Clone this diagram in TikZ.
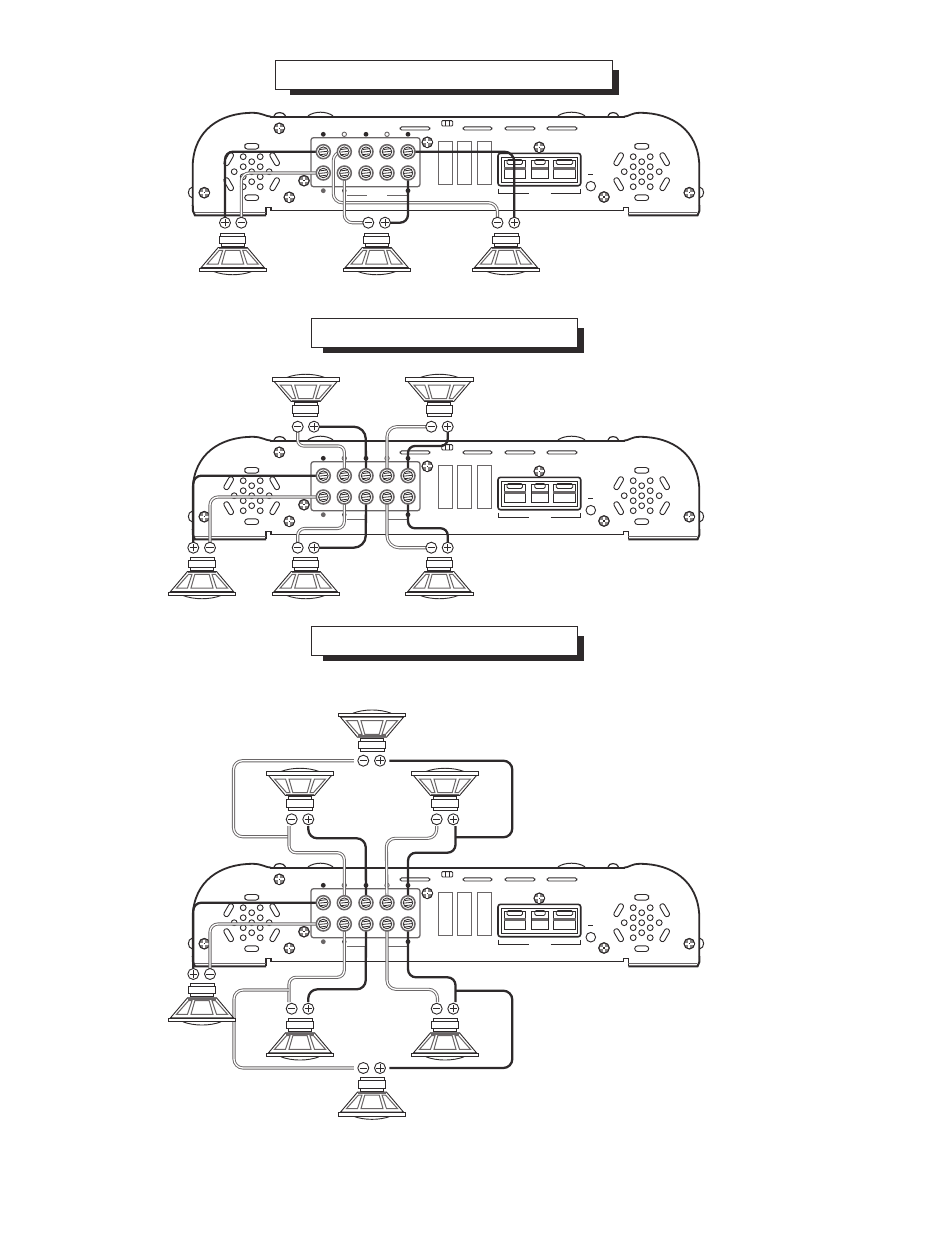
\documentclass[tikz,border=0pt]{standalone}
\usetikzlibrary{calc}
\pgfdeclarelayer{amplayer}
\pgfdeclarelayer{wirelayer}
\pgfsetlayers{amplayer,wirelayer,main}
\definecolor{ink}{HTML}{2E2A2B}
\definecolor{soft}{HTML}{6A6667}
\tikzset{
  x=1pt,y=-1pt,
  amp/.style={draw=ink,line width=1.2pt},
  ampthick/.style={draw=ink,line width=2.4pt},
  softline/.style={draw=soft,line width=1pt},
  blackwire/.style={draw=ink,line width=2.3pt,rounded corners=8pt},
  whitewire/.style={draw=soft,line width=.9pt,double=white,double distance=1.3pt,rounded corners=8pt},
  posterm/.style={circle,draw=ink,line width=.9pt,fill=white,minimum size=11pt,inner sep=0pt,
    path picture={\draw[ink,line width=.9pt] ([xshift=-3.6pt]path picture bounding box.center)--([xshift=3.6pt]path picture bounding box.center)
      ([yshift=-3.6pt]path picture bounding box.center)--([yshift=3.6pt]path picture bounding box.center);}},
  negterm/.style={circle,draw=ink,line width=.9pt,fill=white,minimum size=11pt,inner sep=0pt,
    path picture={\draw[ink,line width=.9pt] ([xshift=-3.6pt]path picture bounding box.center)--([xshift=3.6pt]path picture bounding box.center);}},
  coilterm/.style={circle,draw=soft,line width=1.5pt,fill=white,minimum size=14pt,inner sep=0pt,
    path picture={\begin{scope}[shift={(path picture bounding box.center)}]
      \draw[ink,line width=.8pt] (0,0) circle (4.8);
      \draw[ink,line width=.8pt] (-3.2,-2.2)--(3.2,-3) (-3.9,.4)--(3.9,-.4) (-3.2,3)--(3.2,2.2);
      \end{scope}}},
  grill/.style={draw=ink,line width=.9pt,fill=white},
  banner/.style={draw=ink,line width=.9pt,fill=white},
  shadow/.style={fill=ink,draw=none}
}
\newcommand{\Screw}[2]{%
  \draw[ink,line width=1.1pt,fill=soft!80] (#1,#2) circle (5.3);
  \draw[white,line width=2.3pt] (#1-4.2,#2)--(#1+4.2,#2) (#1,#2-4.2)--(#1,#2+4.2);
  \fill[ink] (#1-.7,#2-.7) rectangle (#1+.7,#2+.7);
}
\newcommand{\SlotD}[3]{\draw[grill,rotate around={#3:(#1,#2)},rounded corners=2.4pt] (#1-7,#2-2.6) rectangle (#1+7,#2+2.6);}
\newcommand{\Grill}[1]{%
  \begin{scope}[shift={(#1,171.7)}]
    \foreach \gx/\gy in {0/-10,-8.5/-15,8.5/-15,-17.5/0,-8.5/-5,8.5/-5,0/0,17.5/0,-8.5/5,8.5/5,0/10,-8.5/15,8.5/15}
      {\draw[grill] (\gx,\gy) circle (2.9);}
    \draw[grill,rounded corners=2.8pt] (-7,-28.2) rectangle (7,-22.6);
    \draw[grill,rounded corners=2.8pt] (-7,23.2) rectangle (7,28.8);
    \SlotD{-23}{-12.5}{60}
    \SlotD{23}{-12.5}{-60}
    \SlotD{-23}{12.5}{-60}
    \SlotD{23}{12.5}{60}
  \end{scope}
}
% amp body, in the coordinates of the first amp; #1 = prefix of the terminal names
\newcommand{\AmpBody}[1]{%
  \begin{pgfonlayer}{amplayer}
    \draw[ampthick,line width=1.8pt] (270,116.6)--(625,116.6);
    \draw[ampthick,line width=1.8pt] (192.7,205)--(192.7,165) .. controls (194,130) and (220,112.8) .. (253,112.8) .. controls (262,112.8) and (266,116.6) .. (271,116.6);
    \draw[ampthick,line width=1.8pt] (699.3,205)--(699.3,165) .. controls (698,130) and (672,112.8) .. (640,112.8) .. controls (631,112.8) and (629,116.6) .. (624,116.6);
    \draw[ampthick,line width=2pt] (192.7,205)--(193,211)--(195,215.4)--(266,215.4);
    \draw[amp] (266,215.4)--(266,207.2)--(271,207.2)--(271,210.4)--(623.3,210.4)--(623.3,207.2)--(628.3,207.2)--(628.3,215.4);
    \draw[ampthick,line width=2pt] (628.3,215.4)--(697.5,215.4)--(699.3,211)--(699.3,205);
    \draw[soft,line width=.8pt] (195,212.6)--(266,212.6) (628.3,212.6)--(697,212.6);
    % bumps and domes
    \draw[amp] (274,115.8) .. controls (275,111.5) and (284,111.5) .. (285.5,115.8);
    \draw[amp] (608,115.8) .. controls (609,111.5) and (617,111.5) .. (618.5,115.8);
    \draw[amp,line width=1pt] (308,115.8) .. controls (315,111) and (326,111) .. (333,115.8);
    \draw[amp,line width=1pt] (558,115.8) .. controls (565,111) and (578,111) .. (585,115.8);
    % lugs
    \draw[amp,line width=1pt] (192.5,187) .. controls (187,188) and (187,197) .. (192.5,198);
    \draw[amp,line width=1pt] (699.5,187) .. controls (705,188) and (705,197) .. (699.5,198);
    % grills
    \Grill{251.7}
    \Grill{641.7}
    % top slots and clip
    \foreach \sa/\sb in {400/430,463/492,505/535,547/577}
      {\draw[amp,line width=.9pt,rounded corners=1.6pt] (\sa,126.8) rectangle (\sb,130);}
    \draw[amp,line width=.9pt,rounded corners=1pt] (441.7,120.6) rectangle (452.7,126);
    \draw[amp,line width=.9pt] (445,120.6)--(445,126) (449.5,120.6)--(449.5,126);
    % screws
    \Screw{279.3}{128.3}
    \Screw{204.3}{192.7}
    \Screw{289.3}{197.3}
    \Screw{304}{180.7}
    \Screw{427.3}{142.3}
    \Screw{539.3}{147.3}
    \Screw{604}{197}
    \Screw{689.3}{192.7}
    % terminal panel
    \draw[soft,line width=1.3pt,rounded corners=2.5pt] (311,137.7) rectangle (420,186.7);
    % dots
    \foreach \dx/\df in {323.3/ink,366/ink,408/ink} {\fill[\df] (\dx,134.3) circle (2.4);}
    \foreach \dx in {344.3,387} {\draw[soft,line width=.9pt,fill=white] (\dx,134.3) circle (2.2);}
    \fill[soft] (323.3,190.7) circle (2.4);
    \fill[ink] (344.3,190.7) circle (2.2);
    \fill[ink] (408,190.7) circle (2.4);
    \draw[soft,line width=.9pt] (346.7,195.8)--(366.7,195.8) (387,195.8)--(408,195.8);
    % tall plates
    \foreach \pa/\pb in {438/452,457/471,477/491}
      {\draw[soft,line width=1pt] (\pa,141.7) rectangle (\pb,184.3);}
    % power block
    \draw[ink,line width=1.6pt,rounded corners=2.5pt] (498,153.3) rectangle (580.7,185.7);
    \draw[ink,line width=.8pt] (501.5,157) rectangle (577,182.5);
    \foreach \ca/\cb in {504/525.5,531.7/548.3,553.3/575.7}{
      \draw[ink,line width=1pt,fill=white] (\ca,160) rectangle (\cb,178.3);
      \fill[soft] (\ca,166.5) rectangle (\cb,169.6);
      \draw[ink,line width=.8pt,rounded corners=1.5pt] (\ca+3,159.5) rectangle (\cb-3,164.5);
    }
    \draw[ink,line width=.9pt] (498,188.5)--(498,193.5)--(529,193.5) (550.5,193.5)--(580.7,193.5)--(580.7,188.5);
    \draw[ink,line width=.9pt] (588.2,174.3)--(593.2,174.3);
    \draw[ink,line width=.9pt,fill=white] (590.8,186.2) circle (4.8);
  \end{pgfonlayer}
  \foreach \tc/\tx in {1/323.3,2/344.3,3/366,4/387,5/408}{
    \node[coilterm] (#1t\tc a) at (\tx,151.7) {};
    \node[coilterm] (#1t\tc b) at (\tx,173) {};
  }
}
\newcommand{\Spk}[3]{% cx, y of magnet end, +1 = cone below, -1 = cone above
  \begin{scope}[shift={(#1,#2)},yscale=#3]
    \draw[ink,line width=.9pt] (-19,38.5) .. controls (-8,42.8) and (8,42.8) .. (19,38.5);
    \draw[ink,line width=1pt,fill=white] (-12,0) rectangle (12,3);
    \draw[ink,line width=1pt,fill=white] (-13.2,3) rectangle (13.2,10.5);
    \draw[ink,line width=1pt,fill=white] (-11.5,10.5) rectangle (11.5,13.5);
    \draw[ink,line width=.9pt,fill=white] (-14.5,14.5)--(14.5,14.5)--(31.5,34.5)--(-31.5,34.5)--cycle;
    \draw[soft,line width=1.5pt] (-14,15.5)--(14,15.5);
    \draw[soft,line width=1pt] (-7.2,17.4)--(7.2,17.4)--(11,31)--(-11,31)--cycle;
    \draw[soft,line width=1pt] (-13.5,17.4)--(-10,17.4)--(-14.5,31)--(-25.5,31)--cycle;
    \draw[soft,line width=1pt] (13.5,17.4)--(10,17.4)--(14.5,31)--(25.5,31)--cycle;
    \draw[ink,line width=1pt,fill=white] (-33.7,35) rectangle (33.7,38.5);
  \end{scope}
}
\newcommand{\Bann}[5]{% left, top, right, bottom, shadow left
  \fill[shadow] (#5,#2+10) rectangle (#3+6,#4+6);
  \draw[banner] (#1,#2) rectangle (#3,#4);
}
\newcommand{\Term}[4]{\node[#1term] (#2) at (#3,#4) {};}
\begin{document}
\begin{tikzpicture}
\useasboundingbox (0,0) rectangle (950,1248);
% banners
\Bann{275.3}{60}{612.7}{89.3}{290}
\Bann{311}{318}{577.5}{347}{323}
\Bann{311}{626.3}{577.5}{655.3}{323}

% ---------- first amp
\begin{scope}
  \AmpBody{a}
\end{scope}
\Spk{232.7}{233}{1}
\Spk{376.7}{233}{1}
\Spk{506}{233}{1}
\Term{pos}{aLp}{225}{222.7}
\Term{neg}{aLn}{241.3}{222.7}
\Term{neg}{aMn}{368.3}{222.7}
\Term{pos}{aMp}{385}{222.7}
\Term{neg}{aRn}{497.5}{222.7}
\Term{pos}{aRp}{514.3}{222.7}
\begin{pgfonlayer}{wirelayer}
  \draw[blackwire] (at1a.center)--(225,151.7)--(aLp.center);
  \draw[whitewire] (at1b.center)--(241.3,173)--(aLn.center);
  \draw[whitewire,rounded corners=9pt] (at2a.center)--(333.3,151.7)--(333.3,202.7)--(497.5,202.7)--(aRn.center);
  \draw[whitewire] (at2b.center)--(344.3,222.7)--(aMn.center);
  \draw[blackwire] (at5b.center)--(408,222.7)--(aMp.center);
  \draw[blackwire,rounded corners=10pt] (at5a.center)--(514.3,151.7)--(aRp.center);
\end{pgfonlayer}

% ---------- second amp
\begin{scope}[yshift=-324pt]
  \AmpBody{b}
\end{scope}
\Spk{305.7}{416}{-1}
\Spk{439.3}{416}{-1}
\Spk{202}{557}{1}
\Spk{305.7}{557}{1}
\Spk{439.3}{557}{1}
\Term{neg}{bTLn}{297.7}{426.7}
\Term{pos}{bTLp}{314}{426.7}
\Term{neg}{bTRn}{431.3}{426.7}
\Term{pos}{bTRp}{447.7}{426.7}
\Term{pos}{bLp}{193.3}{547.7}
\Term{neg}{bLn}{210}{547.7}
\Term{neg}{bMn}{297.7}{547.7}
\Term{pos}{bMp}{314}{547.7}
\Term{neg}{bRn}{431.3}{547.7}
\Term{pos}{bRp}{447.7}{547.7}
\begin{pgfonlayer}{wirelayer}
  \draw[blackwire] (bt1a.center)--(193.3,475.7)--(bLp.center);
  \draw[whitewire] (bt1b.center)--(210,497)--(bLn.center);
  \draw[whitewire,rounded corners=6pt] (bTLn.center)--(297.7,446)--(344.3,446)--(bt2a.center);
  \draw[blackwire,rounded corners=12pt] (bTLp.center)--(365.7,426.7)--(bt3a.center);
  \draw[whitewire,rounded corners=10pt] (bTRn.center)--(387,426.7)--(bt4a.center);
  \draw[blackwire,rounded corners=7pt] (bTRp.center)--(447.7,446)--(408,446)--(bt5a.center);
  \draw[whitewire,rounded corners=7pt] (bt2b.center)--(344.3,528.5)--(297.7,528.5)--(bMn.center);
  \draw[blackwire,rounded corners=12pt] (bt3b.center)--(365.7,547.7)--(bMp.center);
  \draw[whitewire,rounded corners=12pt] (bt4b.center)--(387,547.7)--(bRn.center);
  \draw[blackwire,rounded corners=7pt] (bt5b.center)--(408,528.3)--(447.7,528.3)--(bRp.center);
\end{pgfonlayer}

% ---------- third amp
\begin{scope}[yshift=-751pt]
  \AmpBody{c}
\end{scope}
\Spk{372}{751.7}{-1}
\Spk{300}{810}{-1}
\Spk{445}{810}{-1}
\Spk{202}{983.3}{1}
\Spk{300}{1018.3}{1}
\Spk{445}{1018.3}{1}
\Spk{372}{1077.6}{1}
\Term{neg}{cTn}{363.3}{760.7}
\Term{pos}{cTp}{380}{760.7}
\Term{neg}{cULn}{291.7}{819.3}
\Term{pos}{cULp}{308.3}{819.3}
\Term{neg}{cURn}{436.7}{819.3}
\Term{pos}{cURp}{453.3}{819.3}
\Term{pos}{cLp}{193.3}{974}
\Term{neg}{cLn}{210}{974}
\Term{neg}{cDLn}{291.7}{1008.7}
\Term{pos}{cDLp}{308.3}{1008.7}
\Term{neg}{cDRn}{436.7}{1008.7}
\Term{pos}{cDRp}{453.3}{1008.7}
\Term{neg}{cBn}{363.3}{1068}
\Term{pos}{cBp}{380}{1068}
\coordinate (cJa) at (289,836.7);
\coordinate (cJb) at (455.5,837.3);
\coordinate (cJc) at (289,990);
\coordinate (cJd) at (455.5,990.7);
\begin{pgfonlayer}{wirelayer}
  \draw[blackwire] (ct1a.center)--(193.3,902.7)--(cLp.center);
  \draw[whitewire] (ct1b.center)--(210,924)--(cLn.center);
  % upper side
  \draw[whitewire,rounded corners=9pt] ([xshift=-3.5pt]cTn.west)--(233.5,760.7)--(233.5,836.7)--(cJa);
  \draw[blackwire,rounded corners=9pt] ([xshift=3.5pt]cTp.east)--(512.3,760.7)--(512.3,837.3)--(cJb);
  \draw[whitewire,rounded corners=7pt] (289,826)--(289,852.7)--(344.3,852.7)--(ct2a.center);
  \draw[blackwire,rounded corners=8pt] (455.5,826)--(455.5,852.7)--(408,852.7)--(ct5a.center);
  \draw[blackwire,rounded corners=9pt] (308.3,826)--(308.3,838.3)--(365.7,838.3)--(ct3a.center);
  \draw[whitewire,rounded corners=9pt] (436.7,826)--(436.7,838.3)--(386.3,838.3)--(ct4a.center);
  % lower side
  \draw[whitewire,rounded corners=7pt] (ct2b.center)--(344.3,977.3)--(289,977.3)--(289,1002);
  \draw[blackwire,rounded corners=9pt] (ct3b.center)--(365.7,989.3)--(308.3,989.3)--(308.3,1002);
  \draw[whitewire,rounded corners=9pt] (ct4b.center)--(387,989.3)--(437.5,989.3)--(437.5,1002);
  \draw[blackwire,rounded corners=8pt] (ct5b.center)--(408,977.3)--(455.5,977.3)--(455.5,1002);
  \draw[whitewire,rounded corners=9pt] (cJc)--(234,990)--(234,1068)--([xshift=-3.5pt]cBn.west);
  \draw[blackwire,rounded corners=9pt] (cJd)--(512.3,990.7)--(512.3,1068)--([xshift=3.5pt]cBp.east);
\end{pgfonlayer}
\end{tikzpicture}
\end{document}
